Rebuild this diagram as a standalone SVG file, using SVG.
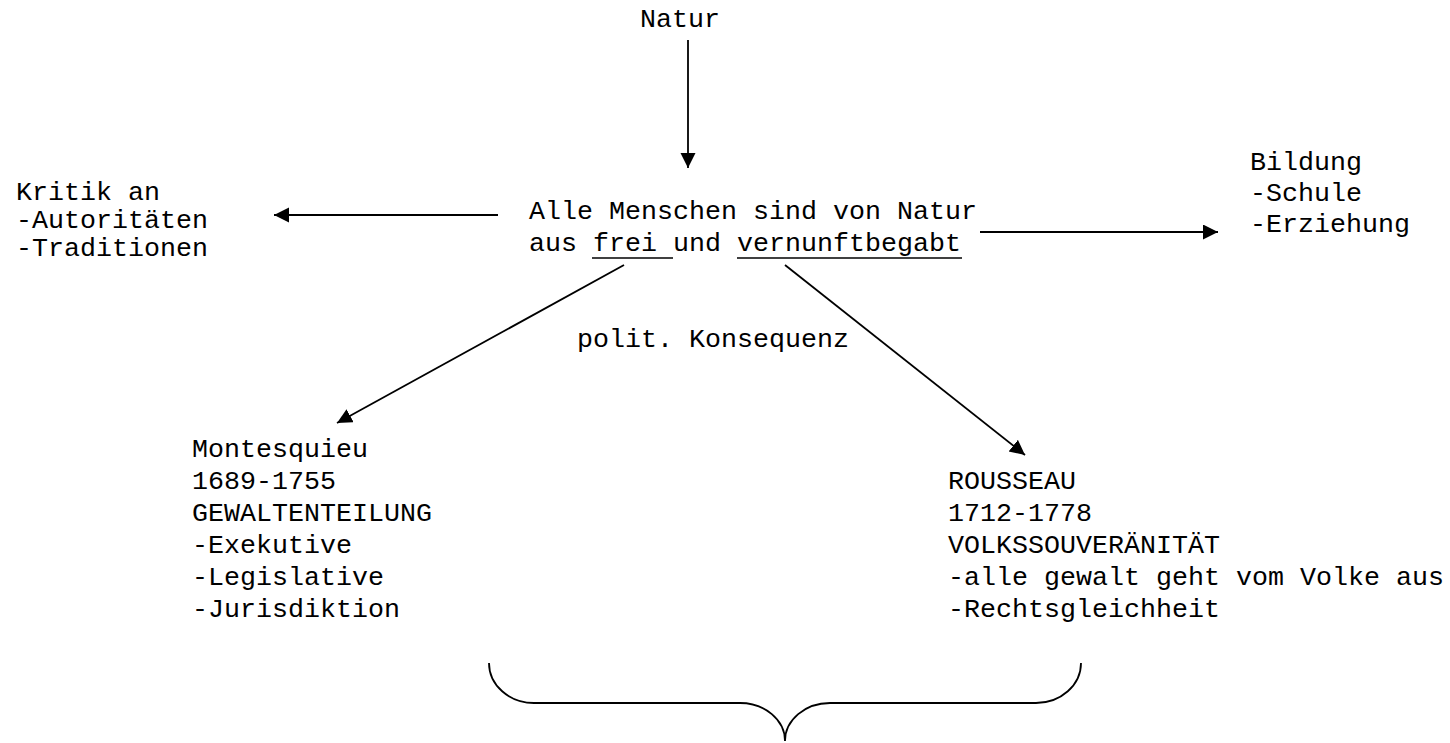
<svg xmlns="http://www.w3.org/2000/svg" width="1450" height="743" viewBox="0 0 1450 743">
<defs>
<style>
text{font-family:"Liberation Mono","Courier New",monospace;font-size:26.67px;fill:#000}
.c{stroke:#000;stroke-width:1.8;fill:none}
.u{stroke:#000;stroke-width:1.3}
</style>
<marker id="ah" markerUnits="userSpaceOnUse" markerWidth="16" markerHeight="16" viewBox="0 0 16 16" refX="15" refY="7.5" orient="auto"><path d="M0,0 L15,7.5 L0,15 z" fill="#000"/></marker>
</defs>
<rect width="1450" height="743" fill="#fff"/>
<g id="natur"><text x="640" y="27">Natur</text></g>
<g id="center">
<text x="529" y="219">Alle Menschen sind von Natur</text>
<text x="529" y="251">aus frei und vernunftbegabt</text>
<line class="u" x1="592" y1="258" x2="673" y2="258"/>
<line class="u" x1="737" y1="258" x2="962" y2="258"/>
</g>
<g id="kritik">
<text x="16" y="200">Kritik an</text>
<text x="16" y="228">-Autoritäten</text>
<text x="16" y="256">-Traditionen</text>
</g>
<g id="bildung">
<text x="1250" y="170">Bildung</text>
<text x="1250" y="201">-Schule</text>
<text x="1250" y="232">-Erziehung</text>
</g>
<g id="konsequenz"><text x="577" y="347">polit. Konsequenz</text></g>
<g id="montesquieu">
<text x="192" y="457">Montesquieu</text>
<text x="192" y="489">1689-1755</text>
<text x="192" y="521">GEWALTENTEILUNG</text>
<text x="192" y="553">-Exekutive</text>
<text x="192" y="585">-Legislative</text>
<text x="192" y="617">-Jurisdiktion</text>
</g>
<g id="rousseau">
<text x="948" y="489">ROUSSEAU</text>
<text x="948" y="521">1712-1778</text>
<text x="948" y="553">VOLKSSOUVERÄNITÄT</text>
<text x="948" y="585">-alle gewalt geht vom Volke aus</text>
<text x="948" y="617">-Rechtsgleichheit</text>
</g>
<g id="connectors">
<line class="c" x1="688" y1="40" x2="688" y2="168" marker-end="url(#ah)"/>
<line class="c" x1="498" y1="215" x2="274" y2="215" marker-end="url(#ah)"/>
<line class="c" x1="980" y1="232" x2="1218" y2="232" marker-end="url(#ah)"/>
<line class="c" x1="624" y1="265" x2="337" y2="423" marker-end="url(#ah)"/>
<line class="c" x1="785" y1="265" x2="1025" y2="455" marker-end="url(#ah)"/>
<path class="c" d="M489,663 A45,40 0 0 0 534,703 L740,703 A45,38 0 0 1 785,741 A45,38 0 0 1 830,703 L1036,703 A45,40 0 0 0 1081,663"/>
</g>
</svg>
